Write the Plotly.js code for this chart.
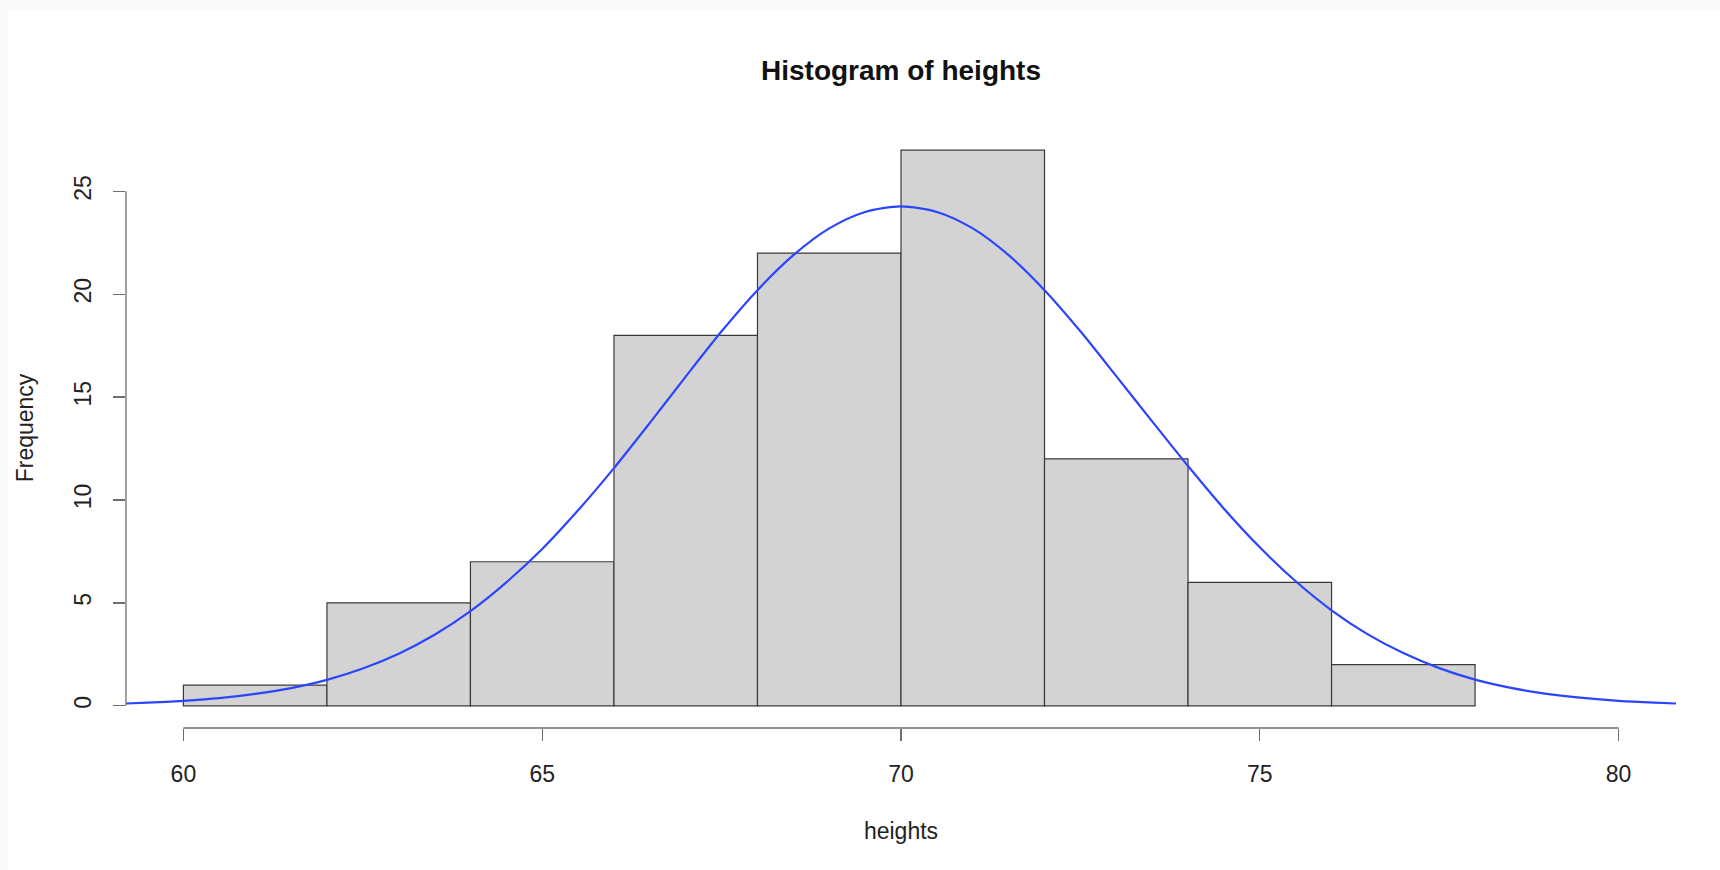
<!DOCTYPE html>
<html>
<head>
<meta charset="utf-8">
<script src="https://cdn.plot.ly/plotly-3.0.1.min.js"></script>
<style>
  html, body { margin: 0; padding: 0; background: #f9f9f9; width: 1720px; height: 870px; overflow: hidden; }
  #chart { position: absolute; left: 8px; top: 10px; width: 1712px; height: 860px; background: #ffffff; }
</style>
</head>
<body>
<div id="chart"></div>
<script>
// Histogram bins (left edges, width 2) and counts
const binStarts = [60, 62, 64, 66, 68, 70, 72, 74, 76];
const binWidth = 2;
const counts = [1, 5, 7, 18, 22, 27, 12, 6, 2];

// Blue curve
const curveX = [59.2, 59.5, 60, 60.5, 61, 61.5, 62, 62.5, 63, 63.5, 64, 64.5, 65, 65.5, 66, 66.5, 67, 67.5, 68, 68.5, 69, 69.5, 70,
                70.5, 71, 71.5, 72, 72.5, 73, 73.5, 74, 74.5, 75, 75.5, 76, 76.5, 77, 77.5, 78, 78.5, 79, 79.5, 80, 80.5, 80.8];
const curveY = [0.11, 0.15, 0.24, 0.37, 0.58, 0.86, 1.26, 1.81, 2.53, 3.45, 4.6, 6.0, 7.62, 9.5, 11.55, 13.75, 16.0, 18.2, 20.2, 21.9, 23.2, 24.0, 24.27,
                24.0, 23.2, 21.9, 20.2, 18.2, 16.02, 13.82, 11.65, 9.58, 7.7, 6.05, 4.64, 3.48, 2.56, 1.83, 1.27, 0.87, 0.58, 0.38, 0.24, 0.15, 0.11];

// Axis ticks
const xTicks = [60, 65, 70, 75, 80];
const yTicks = [0, 5, 10, 15, 20, 25];

const binCenters = binStarts.map(s => s + binWidth / 2);
const FONT = "Liberation Sans, Arial, Helvetica, sans-serif";
const AXISCOL = "#6e6e6e";

const bars = {
  type: "bar",
  x: binCenters,
  y: counts,
  width: binStarts.map(() => binWidth),
  marker: { color: "#d3d3d3", line: { color: "#3a3a3a", width: 1.2 } },
  hoverinfo: "x+y",
  showlegend: false
};

const curve = {
  type: "scatter",
  mode: "lines",
  x: curveX,
  y: curveY,
  line: { color: "#2b45ff", width: 2.2, shape: "spline", smoothing: 0.8 },
  showlegend: false
};

const xr = [xTicks[0] - 0.04 * (xTicks[xTicks.length - 1] - xTicks[0]), xTicks[xTicks.length - 1] + 0.04 * (xTicks[xTicks.length - 1] - xTicks[0])];
const yMax = Math.max(...counts);
const yr = [-0.04 * yMax, yMax * 1.04];

const layout = {
  width: 1712,
  height: 860,
  paper_bgcolor: "#ffffff",
  plot_bgcolor: "#ffffff",
  margin: { l: 118, r: 44, t: 117.5, b: 142.4 },
  font: { family: FONT, color: "#222222", size: 23 },
  title: {
    text: "<b>Histogram of heights</b>",
    font: { family: FONT, size: 28, color: "#111111" },
    x: 0.5, xref: "paper", xanchor: "center",
    y: 1 - 60 / 860, yref: "container", yanchor: "middle"
  },
  bargap: 0,
  xaxis: {
    range: xr,
    tickvals: xTicks,
    ticktext: xTicks.map(String),
    ticks: "outside",
    ticklen: 12,
    tickwidth: 1.3,
    tickcolor: AXISCOL,
    showline: false,
    showgrid: false,
    zeroline: false,
    tickfont: { family: FONT, size: 23, color: "#222222" },
    ticklabelstandoff: 13,
    title: { text: "heights", font: { family: FONT, size: 23, color: "#222222" }, standoff: 37 },
    fixedrange: true
  },
  yaxis: {
    range: yr,
    tickvals: yTicks,
    ticktext: yTicks.map(String),
    ticks: "outside",
    ticklen: 12,
    tickwidth: 1.3,
    tickcolor: AXISCOL,
    tickangle: -90,
    showline: false,
    showgrid: false,
    zeroline: false,
    tickfont: { family: FONT, size: 23, color: "#222222" },
    ticklabelstandoff: 13,
    title: { text: "Frequency", font: { family: FONT, size: 23, color: "#222222" }, standoff: 29 },
    fixedrange: true
  },
  shapes: [
    { type: "line", xref: "x", yref: "paper", x0: xTicks[0], x1: xTicks[xTicks.length - 1], y0: 0, y1: 0, line: { color: AXISCOL, width: 1.3 } },
    { type: "line", xref: "paper", yref: "y", x0: 0, x1: 0, y0: yTicks[0], y1: yTicks[yTicks.length - 1], line: { color: AXISCOL, width: 1.3 } }
  ]
};

Plotly.newPlot("chart", [bars, curve], layout, { displayModeBar: false, staticPlot: true });
</script>
</body>
</html>
